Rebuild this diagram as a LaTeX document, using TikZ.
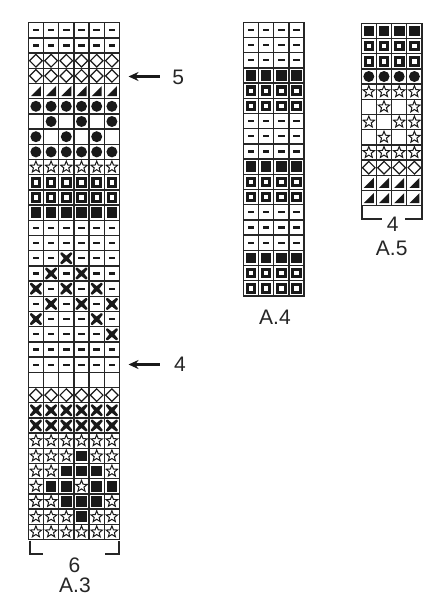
\documentclass[tikz,border=0pt]{standalone}
\usepackage{fontspec}
\setmainfont{Liberation Sans}
\usetikzlibrary{arrows.meta}
\def\cs{15.2}
\tikzset{
  gridline/.style={line width=1.3pt, draw=black!85},
  bracketline/.style={line width=2.2pt, draw=black!85, line cap=butt, line join=miter},
  lbl/.style={inner sep=0pt, font=\fontsize{21}{24}\selectfont, text=black!85},
  markarrow/.style={line width=2.2pt, draw=black!90, -{Stealth[length=10pt,width=9pt]}}
}
\newcommand\cellsymm{\fill[black!90] (-3.3,-1.1) rectangle (3.3,1.1);}
\newcommand\cellsymd{\draw[line width=1.2pt, black!90, line join=miter] (0,6.3)--(6.3,0)--(0,-6.3)--(-6.3,0)--cycle;}
\newcommand\cellsymt{\fill[black!90] (-5,-5)--(5,-5)--(5,5)--cycle;}
\newcommand\cellsymo{\fill[black!90] (0,0) circle (5.5);}
\newcommand\cellsyms{\draw[line width=1pt, black!90, line join=miter] (90:6) \foreach \a in {1,...,4} {-- ({90+\a*72-36}:2.6) -- ({90+\a*72}:6)} -- (54:2.6) -- cycle;}
\newcommand\cellsymq{\fill[black!90] (-5.3,-5.3) rectangle (5.3,5.3); \fill[white] (-2.2,-2.2) rectangle (2.2,2.2);}
\newcommand\cellsymf{\fill[black!90] (-5.3,-5.3) rectangle (5.3,5.3);}
\newcommand\cellsymx{\fill[black!90] (-5.6,-5.6) -- (-4.2,-5.9) -- (0,-2.6) -- (4.2,-5.9) -- (5.6,-5.6) -- (5.9,-4.2) -- (2.6,0) -- (5.9,4.2) -- (5.6,5.6) -- (4.2,5.9) -- (0,2.6) -- (-4.2,5.9) -- (-5.6,5.6) -- (-5.9,4.2) -- (-2.6,0) -- (-5.9,-4.2) -- cycle;}
\newcommand\cellsyme{}
\newcommand\chartgrid[4]{%
  \foreach \i in {1,...,\numexpr#3-1\relax} {\draw[gridline] ({#1+\i*\cs},#2) -- ({#1+\i*\cs},{#2+#4*\cs});}
  \foreach \j in {1,...,\numexpr#4-1\relax} {\draw[gridline] (#1,{#2+\j*\cs}) -- ({#1+#3*\cs},{#2+\j*\cs});}
  \draw[gridline] (#1,#2) rectangle ({#1+#3*\cs},{#2+#4*\cs});
}
\newcommand\chartcells[3]{%
  \foreach \rowl [count=\r] in {#3} {
    \foreach \c [count=\k] in \rowl {
      \begin{scope}[shift={({#1+(\k-0.5)*\cs},{#2+(\r-0.5)*\cs})}, yscale=-1]
        \csname cellsym\c\endcsname
      \end{scope}
    }
  }
}
\begin{document}
\begin{tikzpicture}[x=1pt,y=-1pt]
\useasboundingbox (0,0) rectangle (447,600);
\fill[white] (0,0) rectangle (447,600);
% ---------- A.3
\chartcells{28.3}{22.7}{
 {m,m,m,m,m,m},{m,m,m,m,m,m},{d,d,d,d,d,d},{d,d,d,d,d,d},{t,t,t,t,t,t},
 {o,o,o,o,o,o},{e,o,e,o,e,o},{o,e,o,e,o,e},{o,o,o,o,o,o},{s,s,s,s,s,s},
 {q,q,q,q,q,q},{q,q,q,q,q,q},{f,f,f,f,f,f},{m,m,m,m,m,m},{m,m,m,m,m,m},
 {m,m,x,m,m,m},{m,x,m,x,m,m},{x,m,x,m,x,m},{m,x,m,x,m,x},{x,m,m,m,x,m},
 {m,m,m,m,m,x},{m,m,m,m,m,m},{m,m,m,m,m,m},{e,e,e,e,e,e},{d,d,d,d,d,d},
 {x,x,x,x,x,x},{x,x,x,x,x,x},{s,s,s,s,s,s},{s,s,s,f,s,s},{s,s,f,f,f,s},
 {s,f,f,s,f,f},{s,s,f,f,f,s},{s,s,s,f,s,s},{s,s,s,s,s,s}}
\chartgrid{28.3}{22.7}{6}{34}
\coordinate (b3a) at (30,540.5);
\coordinate (b3b) at (30,554.3);
\coordinate (b3c) at (43.3,554.3);
\coordinate (b3d) at (105,554.3);
\coordinate (b3e) at (119.3,554.3);
\coordinate (b3f) at (119.3,540.5);
\draw[bracketline] (b3a) -- (b3b) -- (b3c);
\draw[bracketline] (b3d) -- (b3e) -- (b3f);
\node[lbl] (n6) at (74.5,565.5) {6};
\node[lbl] (nA3) at (75,585.5) {A.3};
% arrows
\coordinate (a5s) at (159.5,76.5);
\coordinate (a5e) at (128.5,76.5);
\draw[markarrow] (a5s) -- (a5e);
\node[lbl] (n5) at (178.3,77) {5};
\coordinate (a4s) at (159.5,364.5);
\coordinate (a4e) at (128.5,364.5);
\draw[markarrow] (a4s) -- (a4e);
\node[lbl] (n4) at (180,364.5) {4};
% ---------- A.4
\chartcells{243.3}{22.3}{
 {m,m,m,m},{m,m,m,m},{m,m,m,m},{f,f,f,f},{q,q,q,q},{q,q,q,q},
 {m,m,m,m},{m,m,m,m},{m,m,m,m},{f,f,f,f},{q,q,q,q},{q,q,q,q},
 {m,m,m,m},{m,m,m,m},{m,m,m,m},{f,f,f,f},{q,q,q,q},{q,q,q,q}}
\chartgrid{243.3}{22.3}{4}{18}
\node[lbl] (nA4) at (275,317) {A.4};
% ---------- A.5
\chartcells{361.2}{23.3}{
 {f,f,f,f},{q,q,q,q},{q,q,q,q},{o,o,o,o},{s,s,s,s},{e,s,e,s},
 {s,e,s,s},{e,s,e,s},{s,s,s,s},{d,d,d,d},{t,t,t,t},{t,t,t,t}}
\chartgrid{361.2}{23.3}{4}{12}
\coordinate (b5a) at (361.7,205.5);
\coordinate (b5b) at (361.7,219.3);
\coordinate (b5c) at (381.7,219.3);
\coordinate (b5d) at (405,219.3);
\coordinate (b5e) at (421.7,219.3);
\coordinate (b5f) at (421.7,205.5);
\draw[bracketline] (b5a) -- (b5b) -- (b5c);
\draw[bracketline] (b5d) -- (b5e) -- (b5f);
\node[lbl] (n4b) at (392.7,224) {4};
\node[lbl] (nA5) at (391.7,248.8) {A.5};
\end{tikzpicture}
\end{document}
